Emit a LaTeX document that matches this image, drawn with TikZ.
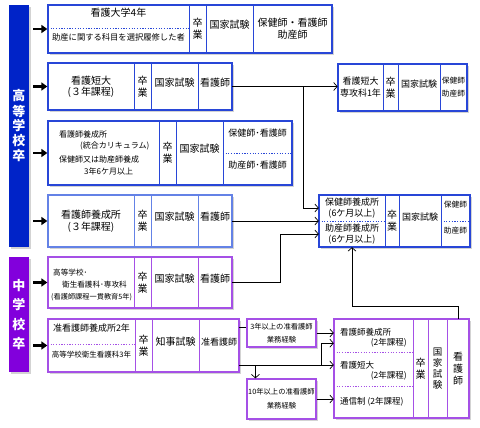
\documentclass[tikz,border=0pt]{standalone}
\usepackage{fontspec}
\setmainfont{Noto Sans CJK JP}
\usetikzlibrary{arrows.meta,fit,shadows,calc}

\definecolor{kblue}{RGB}{40,70,215}
\definecolor{klblue}{RGB}{100,130,230}
\definecolor{kpurple}{RGB}{165,80,230}
\definecolor{barblue}{RGB}{0,35,200}
\definecolor{barpurple}{RGB}{130,0,220}

\newcommand{\kfs}[1]{\fontsize{#1}{#1}\selectfont}
% lines stacked round the centre of a cell: [options]{cell}{pitch}{count}{lines}
\newcommand{\klines}[5][]{%
  \foreach \kline [count=\i] in {#5}
    \node[ktext,#1] (#2-\i) at ($(#2.center)+(0,{(\i-(#4+1)/2)*#3})$) {\kline};}

\tikzset{
  kshadow/.style={drop shadow={shadow xshift=2pt,shadow yshift=-2pt,opacity=0.35}},
  rowframe/.style={draw=#1, line width=1.3pt, fill=white, inner sep=0pt, kshadow},
  kcell/.style={draw=#1, line width=0.8pt, inner sep=0pt, font=\kfs{10}},
  ksplit/.style={inner sep=0pt, font=\kfs{10}},
  ktext/.style={inner sep=0pt, font=\kfs{10}},
  kdots/.style={draw=#1, line width=0.8pt, dash pattern=on 1.2pt off 1.5pt},
  kbar/.style={fill=#1, inner sep=0pt, kshadow},
  kin/.style={-{Triangle[length=6pt,width=8pt]}, line width=2.2pt, shorten <=4pt},
  kconn/.style={-{Straight Barb[length=3.5pt,width=8pt]}, line width=0.7pt},
  kwire/.style={line width=0.7pt},
}

\begin{document}
\begin{tikzpicture}[x=1pt,y=-1pt]
\useasboundingbox (0,0) rectangle (480,428);

% left bars
\node[kbar=barblue, fit={(9,5) (29,247)}] (high) {};
\klines[font=\kfs{13}\bfseries, text=white]{high}{15}{5}{高,等,学,校,卒}
\node[kbar=barpurple, fit={(9,257) (29,372)}] (mid) {};
\klines[font=\kfs{13}\bfseries, text=white]{mid}{19.5}{4}{中,学,校,卒}

% row 1
\node[rowframe=kblue, fit={(48,5) (332,53)}] (r1) {};
\node[ksplit, fit={(48,5) (189,28)}] (r1a) {看護大学4年};
\node[ksplit, font=\kfs{8.3}, fit={(48,28) (189,53)}] (r1b) {助産に関する科目を選択履修した者};
\draw[kdots=kblue] (r1a.south west) -- (r1a.south east);
\node[kcell=kblue, fit={(189,5) (206,53)}] (r1c) {};
\klines{r1c}{12}{2}{卒,業}
\node[kcell=kblue, fit={(206,5) (253,53)}] (r1d) {国家試験};
\node[kcell=kblue, fit={(253,5) (332,53)}] (r1e) {};
\klines{r1e}{12}{2}{保健師・看護師,助産師}

% row 2
\node[rowframe=kblue, fit={(48,63) (232,110)}] (r2) {};
\node[kcell=kblue, fit={(48,63) (134,110)}] (r2a) {};
\klines{r2a}{12.5}{2}{看護短大,(３年課程)}
\node[kcell=kblue, fit={(134,63) (151,110)}] (r2b) {};
\klines{r2b}{12}{2}{卒,業}
\node[kcell=kblue, fit={(151,63) (198,110)}] (r2c) {国家試験};
\node[kcell=kblue, fit={(198,63) (232,110)}] (r2d) {看護師};

% row 3
\node[rowframe=kblue, fit={(48,121) (292,185)}] (r3) {};
\node[ktext, font=\kfs{8}, anchor=west] (r3a1) at (59,134) {看護師養成所};
\node[ktext, font=\kfs{8}, anchor=west] (r3a2) at (80,146) {(統合カリキュラム)};
\node[ktext, font=\kfs{8}, anchor=west] (r3a3) at (59,159) {保健師又は助産師養成};
\node[ktext, font=\kfs{8}, anchor=west] (r3a4) at (84,171.5) {3年6ケ月以上};
\node[kcell=kblue, fit={(159,121) (176,185)}] (r3b) {};
\klines{r3b}{12}{2}{卒,業}
\node[kcell=kblue, fit={(176,121) (223,185)}] (r3c) {国家試験};
\node[ksplit, font=\kfs{9}, fit={(223,121) (292,153)}] (r3d) {保健師･看護師};
\node[ksplit, font=\kfs{9}, fit={(223,153) (292,185)}] (r3e) {助産師･看護師};
\draw[kdots=kblue] (r3d.south west) -- (r3d.south east);

% row 4
\node[rowframe=klblue, fit={(48,195) (232,247)}] (r4) {};
\node[kcell=klblue, fit={(48,195) (134,247)}] (r4a) {};
\klines{r4a}{12.5}{2}{看護師養成所,(３年課程)}
\node[kcell=klblue, fit={(134,195) (151,247)}] (r4b) {};
\klines{r4b}{12}{2}{卒,業}
\node[kcell=klblue, fit={(151,195) (198,247)}] (r4c) {国家試験};
\node[kcell=klblue, fit={(198,195) (232,247)}] (r4d) {看護師};

% row 5
\node[rowframe=kpurple, fit={(48,257) (232,308)}] (r5) {};
\node[ktext, font=\kfs{7.6}, anchor=west] (r5a1) at (53,273) {高等学校･};
\node[ktext, font=\kfs{7.6}, anchor=west] (r5a2) at (62,285) {衛生看護科･専攻科};
\node[ktext, font=\kfs{7.2}, anchor=west] (r5a3) at (51,297) {(看護師課程一貫教育5年)};
\node[kcell=kpurple, fit={(134,257) (151,308)}] (r5b) {};
\klines{r5b}{12}{2}{卒,業}
\node[kcell=kpurple, fit={(151,257) (198,308)}] (r5c) {国家試験};
\node[kcell=kpurple, fit={(198,257) (232,308)}] (r5d) {看護師};

% row 6
\node[rowframe=kpurple, fit={(48,319) (239,372)}] (r6) {};
\node[ksplit, font=\kfs{9}, fit={(48,319) (135,344)}] (r6a) {准看護師養成所2年};
\node[ksplit, font=\kfs{7.5}, fit={(48,344) (135,372)}] (r6b) {高等学校衛生看護科3年};
\draw[kdots=kpurple] (r6a.south west) -- (r6a.south east);
\node[kcell=kpurple, fit={(135,319) (152,372)}] (r6c) {};
\klines{r6c}{12}{2}{卒,業}
\node[kcell=kpurple, fit={(152,319) (199,372)}] (r6d) {知事試験};
\node[kcell=kpurple, font=\kfs{9}, fit={(199,319) (239,372)}] (r6e) {准看護師};

% 看護短大専攻科
\node[rowframe=kblue, fit={(338,64) (467,111)}] (q1) {};
\node[kcell=kblue, fit={(338,64) (383,111)}] (q1a) {};
\klines[font=\kfs{9}]{q1a}{12}{2}{看護短大,専攻科1年}
\node[kcell=kblue, fit={(383,64) (398,111)}] (q1b) {};
\klines{q1b}{12}{2}{卒,業}
\node[kcell=kblue, font=\kfs{9}, fit={(398,64) (440,111)}] (q1c) {国家試験};
\node[kcell=kblue, fit={(440,64) (467,111)}] (q1d) {};
\klines[font=\kfs{7.7}]{q1d}{13}{2}{保健師,助産師}

% 保健師・助産師養成所
\node[rowframe=kblue, fit={(319,195) (470,247)}] (p1) {};
\node[ksplit, fit={(319,195) (385,221)}] (p1a) {};
\klines[font=\kfs{9}]{p1a}{11}{2}{保健師養成所,(6ケ月以上)}
\node[ksplit, fit={(319,221) (385,247)}] (p1b) {};
\klines[font=\kfs{9}]{p1b}{11}{2}{助産師養成所,(6ケ月以上)}
\draw[kdots=kblue] (p1a.south west) -- (p1a.south east);
\node[kcell=kblue, fit={(385,195) (399,247)}] (p1c) {};
\klines{p1c}{12}{2}{卒,業}
\node[kcell=kblue, font=\kfs{9}, fit={(399,195) (441,247)}] (p1d) {国家試験};
\node[ksplit, font=\kfs{7.7}, fit={(441,195) (470,221)}] (p1e) {保健師};
\node[ksplit, font=\kfs{7.7}, fit={(441,221) (470,247)}] (p1f) {助産師};
\draw[kdots=kblue] (p1e.south west) -- (p1e.south east);

% 業務経験
\node[rowframe=kpurple, fit={(247,319) (316,347)}] (exp3) {};
\klines[font=\kfs{7.3}]{exp3}{13}{2}{3年以上の准看護師,業務経験}
\node[rowframe=kpurple, fit={(247,379) (316,419)}] (exp10) {};
\klines[font=\kfs{7.3}]{exp10}{14}{2}{10年以上の准看護師,業務経験}

% 2年課程
\node[rowframe=kpurple, fit={(334,319) (469,418)}] (s1) {};
\node[ksplit, fit={(334,319) (413,352)}] (s1a) {};
\node[ktext, font=\kfs{8.5}, anchor=west] (s1a1) at (340,332) {看護師養成所};
\node[ktext, font=\kfs{8.5}, anchor=east] (s1a2) at (407,342.5) {(2年課程)};
\node[ksplit, fit={(334,352) (413,386)}] (s1b) {};
\node[ktext, font=\kfs{8.5}, anchor=west] (s1b1) at (340,365) {看護短大};
\node[ktext, font=\kfs{8.5}, anchor=east] (s1b2) at (407,376) {(2年課程)};
\node[ksplit, fit={(334,386) (413,418)}] (s1c) {};
\node[ktext, font=\kfs{8.5}, anchor=west] (s1c1) at (340,402) {通信制 (2年課程)};
\draw[kdots=kpurple] (s1a.south west) -- (s1a.south east);
\draw[kdots=kpurple] (s1b.south west) -- (s1b.south east);
\node[kcell=kpurple, fit={(413,319) (428,418)}] (s1d) {};
\klines{s1d}{12}{2}{卒,業}
\node[kcell=kpurple, fit={(428,319) (447,418)}] (s1e) {};
\klines[font=\kfs{9.5}]{s1e}{11}{4}{国,家,試,験}
\node[kcell=kpurple, fit={(447,319) (469,418)}] (s1f) {};
\klines{s1f}{12}{3}{看,護,師}

% entry arrows
\draw[kin] (high.east |- r1.west) -- (r1.west);
\draw[kin] (high.east |- r2.west) -- (r2.west);
\draw[kin] (high.east |- r3.west) -- (r3.west);
\draw[kin] (high.east |- r4.west) -- (r4.west);
\draw[kin] (mid.east |- r5.west) -- (r5.west);
\draw[kin] (mid.east |- r6.west) -- (r6.west);

% connectors
\draw[kconn] (r2d.east) -- (r2d.east -| q1a.west);
\draw[kconn] ($(r2d.east)+(71,0)$) |- (p1a.west);
\draw[kconn] (r4d.east) -- (r4d.east -| p1a.west);
\draw[kconn] (r5d.east) -- ++(48,0) |- (p1b.west);
\draw[kconn] (s1f.north) -- ++(0,-12) -| (p1b.south);
\draw[kwire] ([yshift=18.5pt]r6e.east) -- ([yshift=18.5pt]r6e.east -| exp3.west);
\draw[kconn] (exp3.east) -- (exp3.east -| s1a.west);
\coordinate (k) at ([yshift=-19.5pt]r6e.east);
\coordinate (k2) at ($(k)+(16,0)$);
\draw[kconn] (k) -- (k -| s1b.west);
\draw[kconn] ($(k)+(82,0)$) |- ([yshift=9pt]s1a.south west);
\draw[kconn] (k2) -- (k2 |- exp10.north);
\draw[kconn] (exp10.east) -- (exp10.east -| s1c.west);
\end{tikzpicture}
\end{document}
